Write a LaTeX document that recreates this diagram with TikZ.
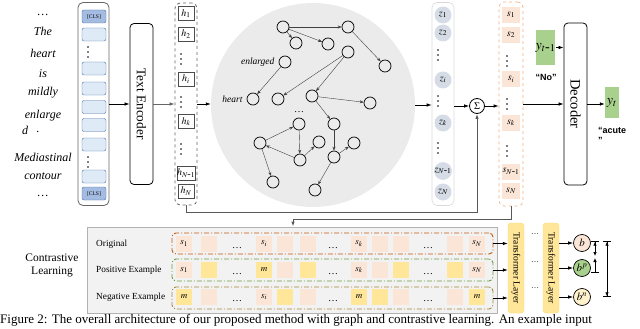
\documentclass[tikz,border=0pt]{standalone}
\usepackage{mathptmx}
\usepackage{fontspec}
\setmainfont{Liberation Serif}
\newfontfamily\labelsans{Liberation Sans}
\usetikzlibrary{arrows.meta,positioning}

\definecolor{tokfill}{HTML}{DEEBF7}
\definecolor{clsfill}{HTML}{A4BCE2}
\definecolor{tokline}{HTML}{4A6FA5}
\definecolor{zfill}{HTML}{D6DCE5}
\definecolor{peach}{HTML}{FBE5D6}
\definecolor{sline}{HTML}{F4B183}
\definecolor{ygreen}{HTML}{A9D18E}
\definecolor{mellow}{HTML}{FFE699}
\definecolor{tlline}{HTML}{FFD966}
\definecolor{cream}{HTML}{FFF2CC}
\definecolor{origline}{HTML}{C55A11}
\definecolor{posline}{HTML}{6E9B45}
\definecolor{negline}{HTML}{A4873C}
\definecolor{loopgray}{HTML}{595959}
\definecolor{graphbg}{HTML}{EBEBEB}
\definecolor{panelbg}{HTML}{F2F2F2}

% three stacked dots
\newcommand{\vdotcol}[2]{\foreach \d in {-5,0,5} {\fill (#1,#2+\d) circle (0.9pt);}}

\tikzset{
    word/.style={font=\fontsize{12}{12}\selectfont\itshape, inner sep=0pt},
    colbox/.style={draw=gray!80!black, rounded corners=5pt, line width=0.8pt, inner sep=0pt},
    tokbox/.style={draw=tokline, fill=tokfill, rounded corners=2pt, minimum width=24pt, minimum height=13pt, inner sep=0pt},
    clsbox/.style={tokbox, fill=clsfill, font=\fontsize{5.5}{6}\selectfont},
    hbox/.style={draw=black!70, fill=white, line width=0.7pt, minimum width=16pt, minimum height=14pt, inner sep=0pt, font=\fontsize{10}{10}\selectfont},
    hdotsrow/.style={inner sep=0pt, font=\fontsize{10}{10}\selectfont},
    bigbox/.style={draw=black, rounded corners=4pt, line width=0.8pt, inner sep=0pt},
    gnode/.style={circle, draw=black, line width=0.7pt, minimum size=12pt, inner sep=0pt},
    gedge/.style={-{Stealth[length=4pt,width=3pt]}, draw=black!75, line width=0.4pt},
    flow/.style={-{Latex[length=5pt,width=3.5pt]}, line width=0.7pt},
    loopline/.style={draw=loopgray, line width=1pt},
    zcirc/.style={circle, fill=zfill, minimum size=17pt, inner sep=0pt, font=\fontsize{10}{10}\selectfont},
    sbox/.style={fill=peach, minimum width=18pt, minimum height=16pt, inner sep=0pt, font=\fontsize{10}{10}\selectfont},
    cell/.style={minimum width=16pt, minimum height=16pt, inner sep=0pt, font=\fontsize{9}{9}\selectfont},
    rowbox/.style={dash pattern=on 5pt off 2pt on 1pt off 2pt, rounded corners=4pt, line width=0.9pt, inner sep=0pt},
    rowlabel/.style={anchor=west, inner sep=0pt, font=\fontsize{9.3}{10}\selectfont},
    tlayer/.style={draw=tlline, fill=mellow, rounded corners=3pt, minimum width=16pt, minimum height=90pt, inner sep=0pt},
    bcirc/.style={circle, draw=black, line width=0.7pt, minimum size=17pt, inner sep=0pt, font=\fontsize{11}{11}\selectfont},
    dim/.style={line width=0.7pt},
}

\begin{document}
\begin{tikzpicture}[x=1pt, y=-1pt]
    \useasboundingbox (0,0) rectangle (640,329);

    % input words
    \node[word] (wtop) at (43,15) {\dots};
    \foreach \w/\y [count=\i] in {The/31, heart/53, is/74, mildly/93, enlarge/116, Mediastinal/157, contour/176}
        \node[word] (w\i) at (43,\y) {\w};
    \node[word] (wd) at (25,130) {d};
    \node[word] (wdot) at (38,132) {.};
    \node[word] (wbot) at (43,196) {\dots};

    % tokens
    \node[colbox, minimum width=31pt, minimum height=203pt] (tokcol) at (93.5,104) {};
    \node[clsbox] (clstop) at (94,16.5) {[CLS]};
    \node[clsbox] (clsbot) at (94,193.5) {[CLS]};
    \foreach \y [count=\i] in {34.5, 68.5, 88.5, 107, 125, 144.5, 176.5}
        \node[tokbox] (tok\i) at (94,\y) {};
    \foreach \y in {52, 162} {\vdotcol{88}{\y}}

    % text encoder
    \node[bigbox, minimum width=23pt, minimum height=161pt] (enc) at (141.5,104) {};
    \node[rotate=-90, font=\fontsize{13.3}{14}\selectfont] (enctext) at (enc) {Text Encoder};
    \draw[flow] (tokcol.east) -- (tokcol.east -| enc.west);

    % hidden states
    \node[colbox, dashed, minimum width=22pt, minimum height=202pt] (hcol) at (186,104) {};
    \foreach \t/\y [count=\i] in {1/13.5, 2/34, i/79, k/121.5, N\mbox{-}1/173, N/191}
        \node[hbox] (h\i) at (186,\y) {$h_{\t}$};
    \foreach \y in {59, 102, 149} {\vdotcol{181}{\y}}
    \draw[flow, draw=black!60] (enc.east) -- (enc.east -| hcol.west);

    % graph
    \node[circle, fill=graphbg, minimum size=204pt, inner sep=0pt] (gcirc) at (313,105) {};
    \draw[flow] (hcol.east) -- (hcol.east -| gcirc.west);
    \foreach \n/\x/\y in {1/283/27, 2/348/27, 3/296/43, 4/328/44, 5/385/66, 6/285/62, 7/348/52,
                          8/253/99, 9/278/99, 10/312/96, 11/370/103, 12/299/124, 13/334/124,
                          14/260/143, 15/300/160, 16/319/142, 17/354/143, 18/334/157, 19/273/182, 20/315/190}
        \node[gnode] (g\n) at (\x,\y) {};
    \foreach \a/\b in {1/2, 1/3, 1/4, 2/5, 6/8, 7/9, 7/10, 10/11, 10/13, 13/18,
                       14/12, 12/15, 15/14, 15/16, 14/19, 18/17, 18/20}
        \draw[gedge] (g\a) -- (g\b);
    \node[word, font=\fontsize{9.5}{10}\selectfont\itshape, left=4pt of g6] (wenl) {enlarged};
    \node[word, font=\fontsize{9.5}{10}\selectfont\itshape, left=4pt of g8] (whrt) {heart};
    \node[hdotsrow] (gdots) at (299,112) {\dots};

    % node states
    \node[draw=gray!30, rounded corners=5pt, line width=0.6pt, minimum width=22pt, minimum height=203pt] (zcol) at (443,104) {};
    \foreach \t/\y [count=\i] in {1/15, 2/33, i/80, k/123, N\mbox{-}1/171, N/192}
        \node[zcirc] (z\i) at (443,\y) {$z_{\t}$};
    \foreach \y in {55, 101, 148} {\vdotcol{438}{\y}}
    \draw[flow] (gcirc.east) -- (gcirc.east -| zcol.west);

    % sum and fused states
    \node[circle, draw=black, line width=0.8pt, minimum size=15pt, inner sep=0pt] (sig) at (477,106) {$\Sigma$};
    \draw[flow] (zcol.east |- sig.west) -- (sig.west);
    \node[draw=sline, dashed, rounded corners=5pt, line width=0.7pt, minimum width=24pt, minimum height=204pt, inner sep=0pt] (scol) at (511,104) {};
    \foreach \t/\y [count=\i] in {1/15, 2/35, i/79.5, k/123, N\mbox{-}1/171.5, N/191}
        \node[sbox] (s\i) at (511,\y) {$s_{\t}$};
    \foreach \y in {61, 104, 151} {\vdotcol{507}{\y}}
    \draw[flow] (sig.east) -- (sig.east -| scol.west);

    % decoder
    \node[bigbox, minimum width=23pt, minimum height=162pt] (dec) at (575.5,104) {};
    \node[rotate=-90, font=\fontsize{14.5}{15}\selectfont] (dectext) at (dec) {Decoder};
    \draw[flow] (scol.east) -- (scol.east -| dec.west);
    \node[fill=ygreen, minimum width=19pt, minimum height=35pt, inner sep=0pt, font=\fontsize{14}{14}\selectfont] (yprev) at (545.5,47.5) {$y_{t\mbox{-}1}$};
    \draw[flow] (yprev.east) -- (yprev.east -| dec.west);
    \node[font=\labelsans\bfseries\fontsize{9}{10}\selectfont] (no) at (546,77) {“No”};
    \node[fill=ygreen, minimum width=14pt, minimum height=31pt, inner sep=0pt, font=\fontsize{14}{14}\selectfont] (ycur) at (612,102.5) {$y_t$};
    \draw[flow] (dec.east) -- (dec.east -| ycur.west);
    \node[anchor=north west, align=left, inner sep=0pt, font=\labelsans\bfseries\fontsize{9}{10}\selectfont] (acute) at (598,127) {“acute\\”};

    % feedback lines
    \coordinate (hturn) at (477,212);
    \draw[loopline, -{Latex[length=5pt,width=3.5pt]}] (hcol.south) |- (hturn) -- (sig.south);

    % contrastive learning
    \node[draw=gray!60, fill=panelbg, line width=0.8pt, minimum width=410pt, minimum height=86pt, inner sep=0pt] (panel) at (292,270) {};
    \coordinate (sturn) at (293,219);
    \draw[loopline, -{Latex[length=5pt,width=3.5pt]}] (scol.south) |- (sturn) -- (sturn |- panel.north);
    \node[align=center, font=\fontsize{11.5}{13}\selectfont] (cltitle) at (52,265) {Contrastive\\Learning};

    \node[rowlabel] (origlab) at (96,244) {Original};
    \node[rowlabel] (poslab) at (96,270.5) {Positive Example};
    \node[rowlabel] (neglab) at (96,297) {Negative Example};

    \node[rowbox, draw=origline, minimum width=321pt, minimum height=21pt] (orow) at (332.5,243.5) {};
    \node[rowbox, draw=posline, minimum width=321pt, minimum height=22pt] (prow) at (332.5,270) {};
    \node[rowbox, draw=negline, minimum width=321pt, minimum height=22pt] (nrow) at (332.5,298) {};

    \foreach \x/\c/\t [count=\i] in {184/peach/$s_1$, 209/peach/, 264/peach/$s_i$, 285/peach/, 308/peach/,
                                     359/peach/$s_k$, 380/peach/, 401/peach/, 455/peach/, 477/peach/$s_N$}
        \node[cell, fill=\c] (o\i) at (\x,243.5) {\t};
    \foreach \x/\c/\t [count=\i] in {184/peach/$s_1$, 209/mellow/, 264/mellow/$m$, 285/peach/, 308/mellow/,
                                     359/peach/$s_k$, 380/peach/, 401/mellow/, 455/mellow/, 477/peach/$s_N$}
        \node[cell, fill=\c] (p\i) at (\x,270) {\t};
    \foreach \x/\c/\t [count=\i] in {184/mellow/$m$, 209/peach/, 264/peach/$s_i$, 285/mellow/, 308/peach/,
                                     359/mellow/$m$, 380/mellow/, 401/peach/, 455/peach/, 477/mellow/$m$}
        \node[cell, fill=\c] (n\i) at (\x,297) {\t};
    \foreach \x [count=\i] in {237, 333, 428}
        \foreach \y/\r in {248/o, 274.5/p, 301.5/n}
            \node[hdotsrow] (\r dots\i) at (\x,\y) {\dots};

    % transformer layers
    \node[tlayer] (tl1) at (516,268) {};
    \node[rotate=-90, font=\fontsize{9.5}{10}\selectfont] (tl1text) at (tl1) {Transformer Layer};
    \node[tlayer] (tl2) at (551,268) {};
    \node[rotate=-90, font=\fontsize{9.5}{10}\selectfont] (tl2text) at (tl2) {Transformer Layer};
    \foreach \r in {orow, prow, nrow}
        \draw[flow] (\r.east) -- (\r.east -| tl1.west);
    \foreach \y [count=\i] in {234, 262, 288}
        \node[hdotsrow, font=\fontsize{8}{8}\selectfont] (tldots\i) at (535,\y) {\dots};

    \node[bcirc, fill=peach] (bo) at (582,243) {$b$};
    \node[bcirc, fill=ygreen] (bp) at (582,268) {$b^p$};
    \node[bcirc, fill=cream] (bn) at (582,297) {$b^n$};
    \foreach \b in {bo, bp, bn}
        \draw[flow] (tl2.east |- \b) -- (\b);

    % distances
    \coordinate (d1top) at (595,241);
    \coordinate (d1mida) at (595,256);
    \coordinate (d1midb) at (595,258);
    \coordinate (d1bot) at (595,273);
    \draw[dim, {Bar[width=8pt]Latex[length=4pt,width=3.5pt]}-{Latex[length=4pt,width=3.5pt]}] (d1top) -- (d1mida);
    \draw[dim, {Latex[length=4pt,width=3.5pt]}-{Bar[width=8pt]}] (d1midb) -- (d1bot);
    \coordinate (d2top) at (607,241);
    \coordinate (d2bot) at (607,297);
    \draw[dim, {Bar[width=8pt]Latex[length=4pt,width=3.5pt]}-{Latex[length=4pt,width=3.5pt]Bar[width=8pt]}] (d2top) -- (d2bot);

    % caption
    \node[anchor=west, inner sep=0pt, font=\fontsize{13}{13}\selectfont] (caption) at (0,320) {Figure 2: The overall architecture of our proposed method with graph and contrastive learning. An example input};
\end{tikzpicture}
\end{document}
